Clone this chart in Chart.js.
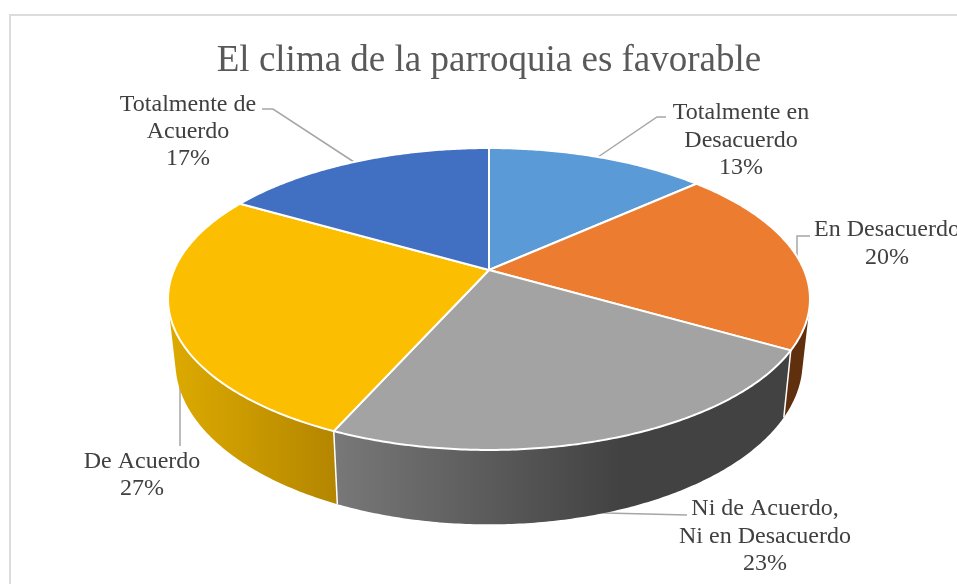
<!DOCTYPE html>
<html lang="es">
<head>
<meta charset="utf-8">
<style>html,body{margin:0;padding:0;background:#fff;overflow:hidden}canvas{display:block}</style>
<script src="https://cdn.jsdelivr.net/npm/chart.js@4"></script>
</head>
<body>
<canvas id="c" width="957" height="584"></canvas>
<script>
// ---- data ----
const categories = ["Totalmente en Desacuerdo", "En Desacuerdo", "Ni de Acuerdo, Ni en Desacuerdo", "De Acuerdo", "Totalmente de Acuerdo"];
const shares = [13.33, 20, 23.33, 26.67, 16.67];
const chartTitle = "El clima de la parroquia es favorable";
const labelLines = [["Totalmente en", "Desacuerdo"], ["En Desacuerdo"], ["Ni de Acuerdo,", "Ni en Desacuerdo"], ["De Acuerdo"], ["Totalmente de", "Acuerdo"]];

// ---- style ----
const topColors = ["#5A9AD6", "#EC7C30", "#A3A3A3", "#FBBE00", "#416FC1"];
const sideStops = [["#3A6A96", "#3A6A96"], ["#5F2F0E", "#5F2F0E"], ["#787878", "#424242"], ["#DCA900", "#B48600"], ["#2A4A85", "#2A4A85"]];
const sideRanges = [[489, 700], [780, 810], [335, 620], [175, 335], [240, 489]];
const labelBoxes = [[741, 113, 27.5], [887, 230, 28], [765, 509, 27.5], [142, 462, 27], [188, 105, 27]];
const leaderPaths = [
  [[666, 117], [657, 117], [598, 157]],
  [[810, 236], [797, 236], [797, 270]],
  [[687, 515], [605, 513], [590, 512]],
  [[180, 446], [180, 340]],
  [[262, 109], [273, 109], [354, 162]]
];
const textFont = '24px "Liberation Serif"';
const textColor = "#404040";
const leaderColor = "#A6A6A6";

// ---- oblique projection of the disc ----
const WIDTH_RATIO = 315 / 145.4;   // horizontal stretch against the library radius
const PERSPECTIVE = 0.192;
const project = (el, a) => {
  const u = Math.cos(a), v = Math.sin(a), d = 1 - PERSPECTIVE * v, r = el.outerRadius;
  return [el.x + WIDTH_RATIO * r * u / d, el.y + r * v / d];
};
const dropRim = (el, p) => [el.x + 0.977 * (p[0] - el.x), p[1] + 73 + (p[1] - 431) * 0.075];
const arcSteps = (el) => Math.max(8, Math.ceil((el.endAngle - el.startAngle) / 0.01));

// Chart.js arcs are drawn as the tilted top face
Chart.ArcElement.prototype.draw = function (ctx) {
  const n = arcSteps(this);
  ctx.save();
  ctx.beginPath();
  ctx.moveTo(this.x, this.y);
  for (let i = 0; i <= n; i++) {
    const p = project(this, this.startAngle + (this.endAngle - this.startAngle) * i / n);
    ctx.lineTo(p[0], p[1]);
  }
  ctx.closePath();
  ctx.fillStyle = this.options.backgroundColor;
  ctx.fill();
  ctx.lineJoin = "round";
  ctx.lineWidth = this.options.borderWidth;
  ctx.strokeStyle = this.options.borderColor;
  ctx.stroke();
  ctx.restore();
};

const piePlugin = {
  id: "pie3d",
  beforeDraw(chart) {
    const c = chart.ctx;
    c.save();
    c.fillStyle = "#fff";
    c.fillRect(0, 0, 957, 584);
    c.fillStyle = "#DCDCDC";
    c.fillRect(9, 14, 948, 2);
    c.fillRect(9, 14, 2, 570);
    c.restore();
  },
  beforeDatasetsDraw(chart) {
    const c = chart.ctx;
    c.save();
    // leader lines sit behind the pie
    c.strokeStyle = leaderColor;
    c.lineWidth = 1.5;
    leaderPaths.forEach(path => {
      c.beginPath();
      path.forEach((p, i) => i ? c.lineTo(p[0], p[1]) : c.moveTo(p[0], p[1]));
      c.stroke();
    });
    // side wall of every slice: one quad per arc step, all wound the same way
    chart.getDatasetMeta(0).data.forEach((el, idx) => {
      const n = arcSteps(el);
      const grad = c.createLinearGradient(sideRanges[idx][0], 0, sideRanges[idx][1], 0);
      grad.addColorStop(0, sideStops[idx][0]);
      grad.addColorStop(1, sideStops[idx][1]);
      c.beginPath();
      const at = i => el.startAngle + (el.endAngle - el.startAngle) * i / n;
      for (let i = 0; i < n; i++) {
        const a = project(el, at(i)), b = project(el, at(i + 1));
        let q = [a, b, dropRim(el, b), dropRim(el, a)];
        let area = 0;
        q.forEach((p, j) => { const r = q[(j + 1) % 4]; area += p[0] * r[1] - r[0] * p[1]; });
        if (area < 0) q = q.reverse();
        q.forEach((p, j) => j ? c.lineTo(p[0], p[1]) : c.moveTo(p[0], p[1]));
        c.closePath();
      }
      c.fillStyle = grad;
      c.fill();
    });
    // white seams on the wall
    c.strokeStyle = "#fff";
    c.lineWidth = 1.5;
    chart.getDatasetMeta(0).data.forEach(el => {
      const a = project(el, el.startAngle), l = dropRim(el, a);
      c.beginPath(); c.moveTo(a[0], a[1]); c.lineTo(l[0], l[1]); c.stroke();
    });
    c.restore();
  },
  afterDraw(chart) {
    const c = chart.ctx, total = shares.reduce((s, v) => s + v, 0);
    c.save();
    c.font = textFont;
    c.fillStyle = textColor;
    c.textAlign = "center";
    c.textBaseline = "middle";
    labelLines.forEach((lines, i) => {
      const [x, y, lh] = labelBoxes[i];
      const all = lines.concat([Math.round(shares[i] / total * 100) + "%"]);
      all.forEach((t, j) => c.fillText(t, x, y + j * lh));
    });
    c.restore();
  }
};

new Chart(document.getElementById("c"), {
  type: "pie",
  data: {
    labels: categories,
    datasets: [{
      data: shares,
      backgroundColor: topColors,
      borderColor: "#fff",
      borderWidth: 2,
      borderAlign: "inner",
      hoverOffset: 0,
      hoverBorderWidth: 2
    }]
  },
  options: {
    responsive: false,
    animation: false,
    events: [],
    layout: { padding: { left: 21, right: 0, top: 39, bottom: 168.6 } },
    plugins: {
      legend: { display: false },
      tooltip: { enabled: false },
      title: {
        display: true,
        text: chartTitle,
        color: "#595959",
        font: { family: '"Liberation Serif"', size: 37, weight: "normal", lineHeight: 1.2 },
        padding: { top: 0, bottom: 41.2 }
      }
    }
  },
  plugins: [piePlugin]
});
</script>
</body>
</html>
